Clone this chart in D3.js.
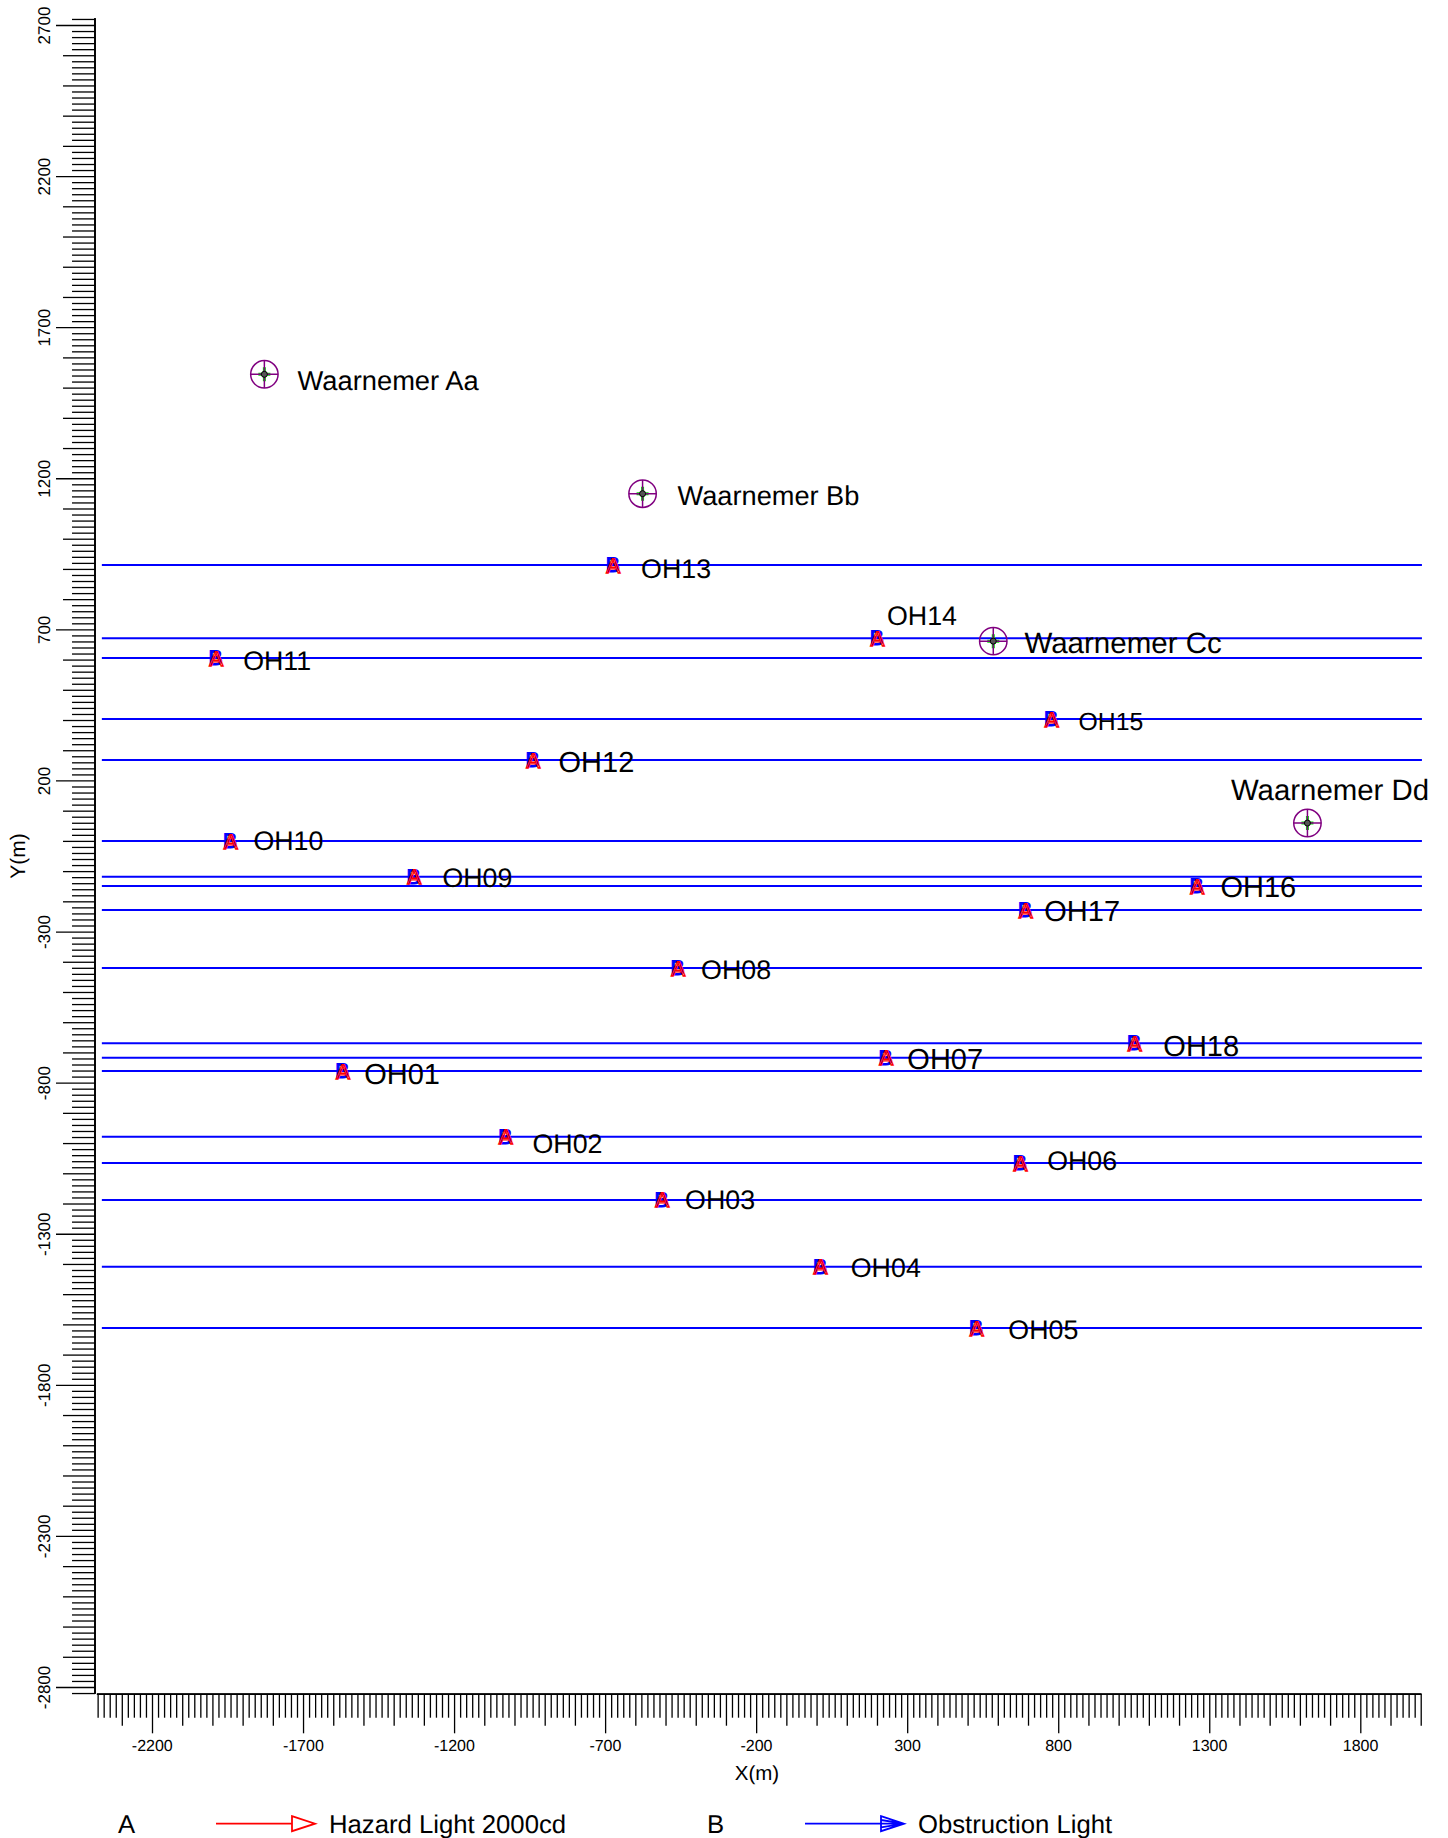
<!DOCTYPE html>
<html><head><meta charset="utf-8">
<script src="https://cdn.jsdelivr.net/npm/d3@7"></script>
<style>
html,body{margin:0;padding:0;background:#fff}
svg{display:block}
text{font-family:"Liberation Sans",Arial,sans-serif;fill:#000;text-rendering:geometricPrecision}
.axis path.domain{stroke:#000;stroke-width:1.4}
.axis line{stroke:#000;stroke-width:1.3}
.axis text{font-family:"Liberation Sans",Arial,sans-serif;fill:#000}
</style></head><body>
<svg id="c" width="1448" height="1838"></svg>
<script>
// ---- data ----
const lightNames = ["OH01","OH02","OH03","OH04","OH05","OH06","OH07","OH08","OH09","OH10","OH11","OH12","OH13","OH14","OH15","OH16","OH17","OH18"];
const lightX = [-1569,-1030,-512,12,529,674,229,-459,-1333,-1941,-1989,-939,-674,200,777,1259,691,1052];
const lightY = [-761.5,-979,-1188,-1409,-1612,-1066,-717.5,-421,-119,0,605,268,913,671,403,-149,-229,-670];
const observerNames = ["Waarnemer Aa","Waarnemer Bb","Waarnemer Cc","Waarnemer Dd"];
const observerX = [-1828,-576,585,1625];
const observerY = [1544,1149,661,59];
const xMajorTicks = [-2200,-1700,-1200,-700,-200,300,800,1300,1800];
const yMajorTicks = [2700,2200,1700,1200,700,200,-300,-800,-1300,-1800,-2300,-2800];
const legendCodes = ["A","B"];
const legendNames = ["Hazard Light 2000cd","Obstruction Light"];
const xExtent = [-2380,2000];
const yExtent = [-2820,2720];
const lineExtent = [-2366,2004];

// ---- label layout (style, not data) ----
const lightLabelDx = [21.6,27.1,23.2,30.6,32,27,21.6,23.2,28.5,23.2,27.4,25.6,28.1,10,27.2,23.5,19,29];
const lightLabelDy = [13.1,15.8,8.9,10.1,11.1,6.8,11.1,10.9,10.4,8.7,12.3,12.5,12.7,-13.2,10.8,11,11.1,12.7];
const lightLabelSize = [29,26.8,26.8,26.8,26.8,26.8,29,26.8,26.8,26.8,26.8,29,26.8,26.8,24.8,29,29,29];
const observerLabelDx = [33.2,35,31.2,-76.5];
const observerLabelDy = [15.6,11.2,12.3,-22.7];
const observerLabelSize = [27.3,27.2,29.5,29.4];

const svg = d3.select("#c");
const x = d3.scaleLinear().domain([-2200,1800]).range([152,1360.3]);
const y = d3.scaleLinear().domain([2700,-2800]).range([25,1687]);
const seq = (a,b,s)=>d3.range(a,b+s/2,s);
const xAll = seq(xExtent[0],xExtent[1],20), yAll = seq(yExtent[0],yExtent[1],20);
const xMid = xAll.filter(v=>v%100===0 && !xMajorTicks.includes(v));
const xMin = xAll.filter(v=>v%100!==0);
const yMid = yAll.filter(v=>v%100===0 && !yMajorTicks.includes(v));
const yMin = yAll.filter(v=>v%100!==0);

// X axis (three tick tiers)
function xAxis(vals,len,labels){
  const a = d3.axisBottom(x).tickValues(vals).tickSize(len).tickSizeOuter(0);
  a.tickFormat(labels? d3.format("d"):"");
  const g = svg.append("g").attr("class","axis").attr("transform","translate(0,1694.3)").call(a);
  g.select("path.domain").attr("d",`M${x(xExtent[0])-0.7},0H${x(xExtent[1])+0.7}`);
  g.selectAll("text").attr("y",null).attr("dy",null).attr("font-size",16)
    .attr("transform",`translate(-0.2,${57})`).text(d=>labels?String(d):"");
}
xAxis(xMin,23.4,false); xAxis(xMid,31.4,false); xAxis(xMajorTicks,39,true);

// Y axis
function yAxis(vals,len,labels){
  const a = d3.axisLeft(y).tickValues(vals).tickSize(len).tickSizeOuter(0);
  a.tickFormat(labels? d3.format("d"):"");
  const g = svg.append("g").attr("class","axis").attr("transform","translate(95,0)").call(a);
  g.select("path.domain").attr("d",`M0,${y(yExtent[1])-0.7}V${y(yExtent[0])+0.7}`);
  g.selectAll("text").attr("x",null).attr("dy",null).attr("text-anchor","middle").attr("font-size",17)
    .attr("transform","translate(-45,0) rotate(-90)").text(d=>labels?String(d):"");
}
yAxis(yMin,23,false); yAxis(yMid,32,false); yAxis(yMajorTicks,39,true);

svg.append("text").attr("x",757).attr("y",1780).attr("text-anchor","middle").attr("font-size",20.5).text("X(m)");
svg.append("text").attr("transform","translate(25,856) rotate(-90)").attr("text-anchor","middle").attr("font-size",21).text("Y(m)");

// horizontal obstruction-light lines
svg.append("g").selectAll("line").data(lightY).join("line")
  .attr("x1",x(lineExtent[0])).attr("x2",x(lineExtent[1]))
  .attr("y1",d=>y(d)).attr("y2",d=>y(d))
  .attr("stroke","#0000ff").attr("stroke-width",2);

// light markers: blue B under red A
const lights = svg.append("g").selectAll("g").data(lightNames).join("g")
  .attr("transform",(d,i)=>`translate(${x(lightX[i])},${y(lightY[i])})`);
lights.append("text").attr("text-anchor","middle").attr("x",-0.3).attr("y",7).attr("font-size",21)
  .text("B").style("fill","#0000ff").attr("stroke","#0000ff").attr("stroke-width",1.1);
lights.append("text").attr("text-anchor","middle").attr("x",0.4).attr("y",7.6).attr("font-size",21)
  .text("A").style("fill","none").attr("stroke","#ff0000").attr("stroke-width",1.3);
svg.append("g").selectAll("text").data(lightNames).join("text")
  .attr("x",(d,i)=>x(lightX[i])+lightLabelDx[i]).attr("y",(d,i)=>y(lightY[i])+lightLabelDy[i])
  .attr("font-size",(d,i)=>lightLabelSize[i]).text(d=>d);

// observers
const obs = svg.append("g").selectAll("g").data(observerNames).join("g")
  .attr("transform",(d,i)=>`translate(${x(observerX[i])},${y(observerY[i])})`);
obs.append("path").attr("d","M-6,0H6M0,-7V7").attr("stroke","#00e000").attr("stroke-width",3).attr("fill","none");
obs.append("circle").attr("r",13.7).attr("fill","none").attr("stroke","#800080").attr("stroke-width",1.5);
obs.append("path").attr("d","M-13.7,0H13.7M0,-13.7V13.7").attr("stroke","#800080").attr("stroke-width",1.5);
obs.append("circle").attr("r",3).attr("fill","#555").attr("stroke","#000").attr("stroke-width",1);
svg.append("g").selectAll("text").data(observerNames).join("text")
  .attr("x",(d,i)=>x(observerX[i])+observerLabelDx[i]).attr("y",(d,i)=>y(observerY[i])+observerLabelDy[i])
  .attr("font-size",(d,i)=>observerLabelSize[i]).text(d=>d);

// legend
const legendColor = ["#ff0000","#0000ff"];
const legendLeft = [118,707];
const lg = svg.append("g").selectAll("g").data(legendCodes).join("g");
lg.append("text").attr("x",(d,i)=>legendLeft[i]).attr("y",1832.5).attr("font-size",25.7).text(d=>d);
lg.append("line").attr("x1",(d,i)=>legendLeft[i]+98).attr("x2",(d,i)=>legendLeft[i]+174)
  .attr("y1",1823.7).attr("y2",1823.7).attr("stroke",(d,i)=>legendColor[i]).attr("stroke-width",1.8);
lg.append("path").attr("transform",(d,i)=>`translate(${legendLeft[i]+174},1823.7)`)
  .attr("d",(d,i)=> i===0 ? "M0,-7.5L23,0L0,7.5Z" : "M0,-7.5L23,0L0,7.5ZM0,-3.7L23,0M0,3.7L23,0M0,0H23")
  .attr("fill","none").attr("stroke",(d,i)=>legendColor[i]).attr("stroke-width",1.8);
lg.append("text").attr("x",(d,i)=>legendLeft[i]+211).attr("y",1832.5).attr("font-size",25.7).text((d,i)=>legendNames[i]);
</script>
</body></html>
